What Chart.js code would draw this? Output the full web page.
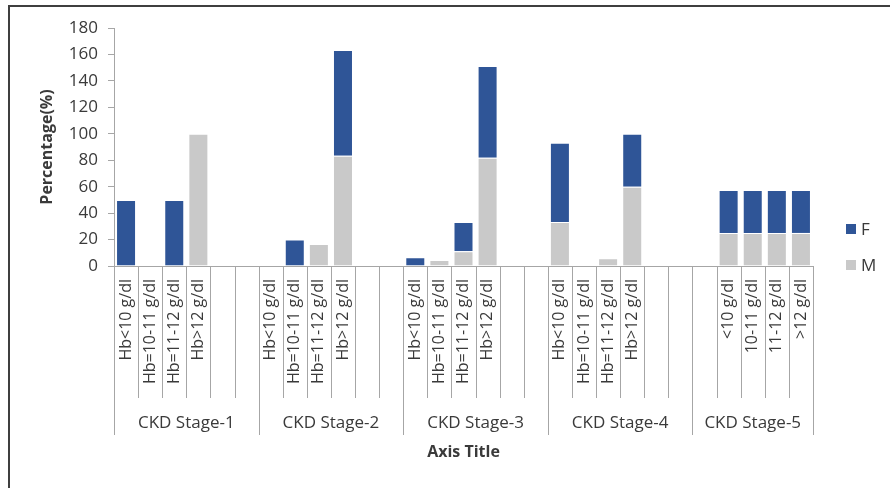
<!DOCTYPE html>
<html>
<head>
<meta charset="utf-8">
<script src="https://cdn.jsdelivr.net/npm/chart.js@4.4.1/dist/chart.umd.min.js"></script>
<style>
  html, body { margin: 0; padding: 0; background: #fff; overflow: hidden; }
  #wrap { width: 890px; height: 488px; }
</style>
</head>
<body>
<div id="wrap"><canvas id="hbChart" width="890" height="488"></canvas></div>
<script>
/* data */
const stages = ['CKD Stage-1', 'CKD Stage-2', 'CKD Stage-3', 'CKD Stage-4', 'CKD Stage-5']
const stageSizes = [6, 6, 6, 6, 5]

const hbLabels = [
    'Hb<10 g/dl', 'Hb=10-11 g/dl', 'Hb=11-12 g/dl', 'Hb>12 g/dl', '', '',
    'Hb<10 g/dl', 'Hb=10-11 g/dl', 'Hb=11-12 g/dl', 'Hb>12 g/dl', '', '',
    'Hb<10 g/dl', 'Hb=10-11 g/dl', 'Hb=11-12 g/dl', 'Hb>12 g/dl', '', '',
    'Hb<10 g/dl', 'Hb=10-11 g/dl', 'Hb=11-12 g/dl', 'Hb>12 g/dl', '', '',
    '', '<10 g/dl', '10-11 g/dl', '11-12 g/dl', '>12 g/dl'
]

const maleValues = [
    0, 0, 0, 100, 0, 0,
    0, 0, 16.7, 83.3, 0, 0,
    0, 4.5, 11.1, 81.8, 0, 0,
    33.3, 0, 5.9, 60, 0, 0,
    0, 25, 25, 25, 25
]
const femaleValues = [
    50, 0, 50, 0, 0, 0,
    0, 20, 0, 80, 0, 0,
    6.7, 0, 22.2, 69.5, 0, 0,
    60, 0, 0, 40, 0, 0,
    0, 32.5, 32.5, 32.5, 32.5
]

const yTicks = [0, 20, 40, 60, 80, 100, 120, 140, 160, 180]

const colors = {
    blue: '#2F5597',
    gray: '#C9C9C9',
    axis: '#A6A6A6',
    text: '#3A3A3A',
    frame: '#3F3F3F'
}

const FONT = "'Open Sans', sans-serif"

// frame, category separators, stage labels and legend
const excelAxis = {
    id: 'excelAxis',
    afterDraw(chart) {
        const ctx = chart.ctx
        const x = chart.scales.x
        const area = chart.chartArea
        const n = hbLabels.length
        const w = (x.right - x.left) / n

        ctx.save()
        ctx.strokeStyle = colors.axis
        ctx.lineWidth = 1

        // boundaries between categories, longer at stage edges
        let edges = [0]
        let acc = 0
        stageSizes.forEach(function(s) { acc += s; edges.push(acc) })
        for (let i = 0; i <= n; i++) {
            const px = Math.round(x.getPixelForValue(i) - w / 2) + 0.5
            const long = edges.indexOf(i) !== -1
            ctx.beginPath()
            ctx.moveTo(px, area.bottom)
            ctx.lineTo(px, long ? 435 : 398)
            ctx.stroke()
        }

        // stage names
        ctx.fillStyle = colors.text
        ctx.font = '17px ' + FONT
        ctx.textAlign = 'center'
        ctx.textBaseline = 'middle'
        let start = 0
        stages.forEach(function(name, k) {
            const a = x.getPixelForValue(start) - w / 2
            const b = x.getPixelForValue(start + stageSizes[k] - 1) + w / 2
            ctx.fillText(name, (a + b) / 2, 423)
            start += stageSizes[k]
        })

        // legend, F above M
        const items = chart.data.datasets.slice().reverse()
        ctx.textAlign = 'left'
        ctx.font = '17px ' + FONT
        items.forEach(function(ds, k) {
            const cy = 229 + k * 36
            ctx.fillStyle = ds.backgroundColor
            ctx.fillRect(846, cy - 5, 10, 10)
            ctx.fillStyle = colors.text
            ctx.fillText(ds.label, 861, cy + 1)
        })

        // outer frame
        ctx.strokeStyle = colors.frame
        ctx.lineWidth = 2
        ctx.strokeRect(9, 6, 1000, 1000)
        ctx.restore()
    }
}

const ctx = document.getElementById('hbChart').getContext('2d')
const hbChart = new Chart(ctx, {
    type: 'bar',
    data: {
        labels: hbLabels,
        datasets: [
            {
                label: 'M',
                data: maleValues,
                backgroundColor: colors.gray,
                borderColor: 'rgba(255,255,255,0.75)',
                borderWidth: 1
            },
            {
                label: 'F',
                data: femaleValues,
                backgroundColor: colors.blue,
                borderColor: 'rgba(255,255,255,0.75)',
                borderWidth: 1
            }
        ]
    },
    options: {
        responsive: false,
        animation: false,
        events: [],
        layout: { padding: { left: 30, right: 77, top: 28, bottom: 20 } },
        datasets: { bar: { categoryPercentage: 1, barPercentage: 0.83 } },
        plugins: {
            legend: { display: false },
            tooltip: { enabled: false }
        },
        scales: {
            x: {
                stacked: true,
                offset: true,
                grid: { display: false, drawTicks: false },
                border: { color: colors.axis, width: 1 },
                ticks: {
                    autoSkip: false,
                    minRotation: 90,
                    maxRotation: 90,
                    padding: 13,
                    color: colors.text,
                    font: { family: FONT, size: 16 }
                },
                title: {
                    display: true,
                    text: 'Axis Title',
                    color: colors.text,
                    padding: { top: 0, bottom: 6 },
                    font: { family: FONT, size: 16, weight: 'bold' }
                },
                afterFit: function(scale) { scale.height = 202 }
            },
            y: {
                stacked: true,
                min: 0,
                max: 180,
                afterBuildTicks: function(scale) {
                    scale.ticks = yTicks.map(function(v) { return { value: v } })
                },
                grid: {
                    drawOnChartArea: false,
                    drawTicks: true,
                    tickLength: 6,
                    color: colors.axis
                },
                border: { color: colors.axis, width: 1 },
                ticks: {
                    padding: 10,
                    color: colors.text,
                    font: { family: FONT, size: 17 }
                },
                title: {
                    display: true,
                    text: 'Percentage(%)',
                    color: colors.text,
                    padding: { top: 8, bottom: 0 },
                    font: { family: FONT, size: 16, weight: 'bold' }
                },
                afterFit: function(scale) { scale.width = 84 }
            }
        }
    },
    plugins: [excelAxis]
})
</script>
</body>
</html>
